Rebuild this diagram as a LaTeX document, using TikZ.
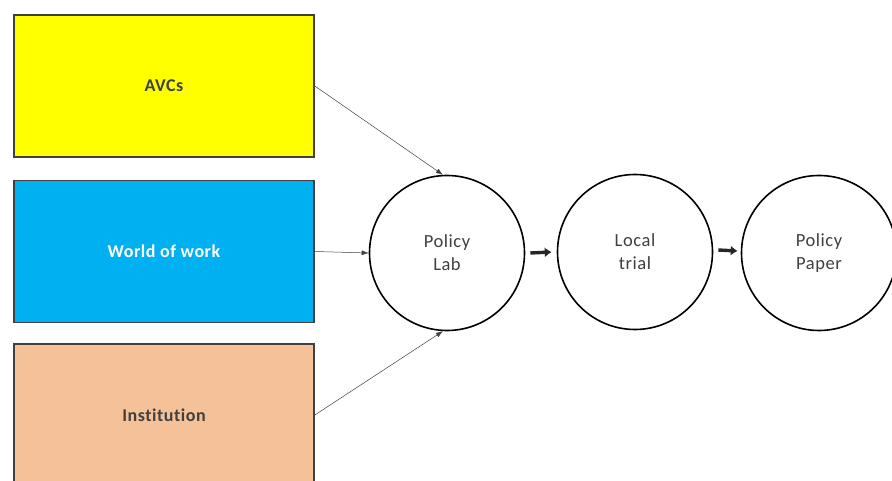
\documentclass[tikz,border=0pt]{standalone}
\usepackage{fontspec}
\setmainfont{Carlito}[Ligatures=NoCommon,LetterSpace=3]
\usepackage{xcolor}
\usepackage{tikz}
\usetikzlibrary{
  arrows.meta,
  positioning
}
\definecolor{avcyellow}{RGB}{255,255,0}
\definecolor{workblue}{RGB}{0,176,240}
\definecolor{instpeach}{RGB}{244,193,152}
\definecolor{boxline}{RGB}{64,64,64}
\definecolor{labeltext}{RGB}{64,64,64}
\tikzset{
  inputbox/.style={
    draw=boxline,
    line width=1.6pt,
    minimum width=300pt,
    minimum height=142pt,
    align=center,
    font=\fontsize{18}{21}\selectfont\bfseries,
    text=labeltext
  },
  stagecircle/.style={
    circle,
    draw=black,
    line width=1.6pt,
    fill=white,
    minimum size=155pt,
    align=center,
    font=\fontsize{18.5}{23}\selectfont,
    text=labeltext
  },
  feedarrow/.style={-{Latex[length=7pt,width=5pt]},line width=0.5pt,draw=black!75},
  stagearrow/.style={-{Latex[length=7pt,width=10pt]},line width=3.4pt,draw=black!85}
}

\begin{document}
\begin{tikzpicture}[x=1pt,y=1pt]
  \useasboundingbox (0,0) rectangle (892,480);
  \clip (0,0) rectangle (892,480);

  % Input boxes
  \node[inputbox,fill=avcyellow] (avcs) at (164,394) {AVCs};
  \node[inputbox,fill=workblue,text=white] (work) at (164,228.5) {World of work};
  \node[inputbox,fill=instpeach] (inst) at (164,65) {Institution};

  % Stages
  \node[stagecircle] (lab) at (447,227) {Policy\\Lab};
  \node[stagecircle] (trial) at (635,228) {Local\\trial};
  \node[stagecircle] (paper) at (819,227) {Policy\\Paper};

  % Connectors
  \draw[feedarrow] (avcs.east) -- (lab.93);
  \draw[feedarrow] (work.east) -- (lab.west);
  \draw[feedarrow] (inst.east) -- (lab.267);
  \draw[stagearrow] ([xshift=5pt]lab.east) -- ([xshift=-5pt]trial.west);
  \draw[stagearrow] ([xshift=5pt,yshift=2pt]trial.east) -- ([xshift=-3pt,yshift=2pt]paper.west);
\end{tikzpicture}
\end{document}
